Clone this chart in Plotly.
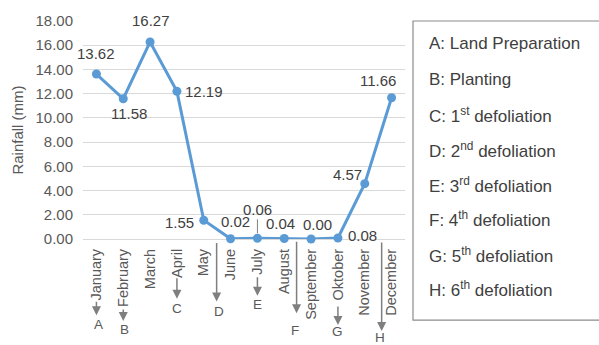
import plotly.graph_objects as go

months = ["January", "February", "March", "April", "May", "June", "July",
          "August", "September", "Oktober", "November", "December"]
rainfall = [13.62, 11.58, 16.27, 12.19, 1.55, 0.02, 0.06, 0.04, 0.00, 0.08, 4.57, 11.66]
y_ticks = [0, 2, 4, 6, 8, 10, 12, 14, 16, 18]

stage_letters = ["A", "B", "C", "D", "E", "F", "G", "H"]
stage_names = ["Land Preparation", "Planting", "1<sup>st</sup> defoliation",
               "2<sup>nd</sup> defoliation", "3<sup>rd</sup> defoliation",
               "4<sup>th</sup> defoliation", "5<sup>th</sup> defoliation",
               "6<sup>th</sup> defoliation"]
# position of each stage arrow on the month axis (category index)
stage_pos = [0, 1, 3, 4.48, 6, 7.46, 9, 10.63]

# layout geometry (pixels)
W, H = 599, 345
L, R, T, B = 83, 194, 16, 106
plot_h = H - T - B


def py(p):
    """pixel y -> paper y"""
    return (H - B - p) / plot_h


FONT = "Liberation Sans, Arial"

# label offsets (style) in pixels for each data label
lab_dx = [0, 6, 1, 27, -24, 5, 0, -4, 6, 25, -17, -14]
lab_dy = [-21, 15, -21, 0, 2, -17, -29, -15, -15, -3, -9, -17]

# arrow geometry (style) in pixels: head y, tail y, letter y, letter x-shift
arr_head = [317, 323, 300, 303, 297, 315, 327, 333]
arr_tail = [302, 310, 278, 243, 277, 242, 307, 243]
let_y = [326, 332, 310, 313, 306, 333, 334, 340]
let_dx = [2, 1, 0, 2, 0, -2, 0, -2]

fig = go.Figure()
fig.add_trace(go.Scatter(
    x=months, y=rainfall, mode="lines+markers",
    line=dict(color="#5B9BD5", width=3),
    marker=dict(color="#5B9BD5", size=9),
    cliponaxis=False, hoverinfo="skip", showlegend=False))

annotations = []
for i, (m, v) in enumerate(zip(months, rainfall)):
    if i == 6:
        annotations.append(dict(
            x=m, y=v, xref="x", yref="y", text=f"{v:.2f}",
            showarrow=True, arrowhead=0, arrowwidth=1, arrowcolor="#808080",
            ax=lab_dx[i], ay=lab_dy[i], standoff=5,
            font=dict(family=FONT, size=15, color="#404040")))
    else:
        annotations.append(dict(
            x=m, y=v, xref="x", yref="y", text=f"{v:.2f}", showarrow=False,
            xshift=lab_dx[i], yshift=-lab_dy[i],
            font=dict(family=FONT, size=15, color="#404040")))

for i, letter in enumerate(stage_letters):
    annotations.append(dict(
        x=stage_pos[i], y=py(arr_head[i]), xref="x", yref="paper", text="",
        showarrow=True, arrowhead=2, arrowsize=1.2, arrowwidth=1.5,
        arrowcolor="#7F7F7F", ax=0, ay=arr_tail[i] - arr_head[i]))
    annotations.append(dict(
        x=stage_pos[i], y=py(let_y[i]), xref="x", yref="paper", text=letter,
        showarrow=False, xshift=let_dx[i], yanchor="middle",
        font=dict(family=FONT, size=13.5, color="#595959")))

# legend box text
leg_x = (427 - L) / (W - L - R)
leg_y = [43.3, 80, 115.5, 151, 186.7, 222, 258, 293.3]
for i, (letter, name) in enumerate(zip(stage_letters, stage_names)):
    has_sup = "<sup>" in name
    annotations.append(dict(
        x=leg_x, y=py(leg_y[i]), xref="paper", yref="paper",
        text=f"{letter}: {name}", showarrow=False, xanchor="left", yanchor="middle",
        yshift=3 if has_sup else 4,
        font=dict(family=FONT, size=17, color="#404040")))

fig.add_shape(type="rect", xref="paper", yref="paper",
              x0=(413 - L) / (W - L - R), x1=(W + 10 - L) / (W - L - R),
              y0=py(322), y1=py(16),
              line=dict(color="#8C8C8C", width=1.2), fillcolor="rgba(0,0,0,0)")

fig.update_layout(
    width=W, height=H,
    margin=dict(l=L, r=R, t=T, b=B),
    plot_bgcolor="white", paper_bgcolor="white",
    annotations=annotations,
    font=dict(family=FONT, color="#595959"),
    xaxis=dict(type="category", range=[-0.5, 11.5], tickangle=-90,
               showgrid=False, showline=False, ticks="",
               ticklabelstandoff=6,
               tickfont=dict(size=14.5, color="#595959")),
    yaxis=dict(range=[0, 18], tickvals=y_ticks, tickformat=".2f",
               showgrid=True, gridcolor="#D9D9D9", gridwidth=1.2,
               zeroline=True, zerolinecolor="#D9D9D9", zerolinewidth=1.2,
               showline=False, ticks="", ticklabelstandoff=9,
               tickfont=dict(size=15, color="#595959"),
               title=dict(text="Rainfall (mm)", standoff=8,
                          font=dict(size=15, color="#595959"))),
)

fig.write_html("out.html")
